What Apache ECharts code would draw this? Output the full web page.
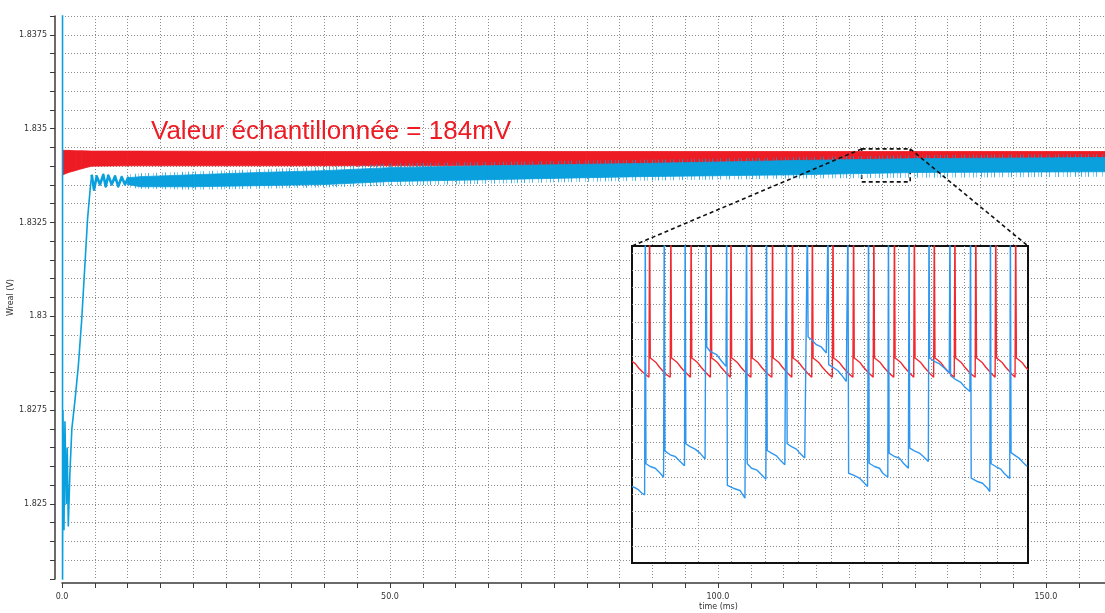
<!DOCTYPE html>
<html>
<head>
<meta charset="utf-8">
<script src="https://cdn.jsdelivr.net/npm/echarts@6/dist/echarts.min.js"></script>
<style>
  html, body { margin: 0; padding: 0; background: #ffffff; }
  #chart { width: 1105px; height: 613px; }
</style>
</head>
<body>
<div id="chart"></div>
<script>
// ---------------- main plot: Vreal vs time ----------------
const timeRange = [0, 159];          // ms
const voltRange = [1.823, 1.838];    // V
const timeStep = 5;                  // ms between grid lines
const voltStep = 0.0005;             // V between grid lines
const timeLabelEvery = 50;
const voltLabelEvery = 0.0025;

// red trace (sampled value): envelope of its fast ripple
const redBandTime = [0.15, 1, 2, 3, 4.5, 10, 40, 80, 120, 159];
const redBandLow  = [1.83377, 1.83383, 1.83388, 1.83393, 1.83400, 1.83401, 1.83401, 1.83401, 1.83401, 1.83401];
const redBandHigh = [1.83442, 1.83442, 1.83441, 1.83441, 1.83440, 1.83440, 1.83439, 1.83439, 1.83439, 1.83439];

// blue trace: start-up rise
const blueRiseTime = [0.08, 0.08, 0.15, 0.3, 0.45, 0.65, 0.8, 0.96, 1.2, 1.5, 2.0, 2.5, 3.0, 3.5, 3.9, 4.3, 4.53];
const blueRiseVolt = [1.8390, 1.8225, 1.8275, 1.8243, 1.8272, 1.8250, 1.8265, 1.8244, 1.8258, 1.8270, 1.8278, 1.8287,
                      1.8299, 1.8314, 1.8326, 1.8334, 1.83377];
// blue trace: ringing after the rise
const blueRingTime = [4.53, 4.88, 5.29, 5.79, 6.30, 6.66, 7.06, 7.58, 8.08, 8.58, 9.10, 9.60, 10.06, 10.52];
const blueRingVolt = [1.83377, 1.83337, 1.83373, 1.83351, 1.83377, 1.83346, 1.83375, 1.83351, 1.83373, 1.83346,
                      1.83371, 1.83351, 1.83369, 1.83351];

// blue trace after settling: envelope of its fast ripple, and the reach of its spikes
const blueBandTime  = [10, 12, 20, 30, 40, 50, 65, 88, 112, 130, 159];
const blueBandLow   = [1.83351, 1.83345, 1.83345, 1.83348, 1.83351, 1.83359, 1.83364, 1.83372, 1.83377, 1.83383, 1.83385];
const blueBandHigh  = [1.83369, 1.83372, 1.83377, 1.83383, 1.83388, 1.83396, 1.83401, 1.83407, 1.83415, 1.83420, 1.83423];
const blueSpikeLow  = [1.83343, 1.83340, 1.83337, 1.83340, 1.83343, 1.83348, 1.83353, 1.83361, 1.83367, 1.83369, 1.83372];
const blueSpikeHigh = [1.83378, 1.83381, 1.83386, 1.83392, 1.83398, 1.83407, 1.83411, 1.83417, 1.83424, 1.83429, 1.83432];

// window magnified in the inset
const zoomTime = [121.9, 129.3];
const zoomVolt = [1.83358, 1.83446];

const annotation = 'Valeur échantillonnée = 184mV';

// ---------------- inset: magnified window, in grid divisions ----------------
const insetXRange = [0, 11.92];
const insetYRange = [0, 18.4];
const insetSpikeTop = 20;   // pulses leave the top of the inset

const insetRedSpikes = [0.53, 1.17, 1.78, 2.38, 2.98, 3.60, 4.23, 4.83, 5.43, 6.05, 6.67, 7.28, 7.90, 8.50, 9.10, 9.72, 10.35, 10.95, 11.55];
const insetRedSegments = [
  [[0.00, 11.71], [0.10, 11.57], [0.20, 11.32], [0.32, 11.09], [0.42, 10.93], [0.51, 10.78]],
  [[0.55, 11.90], [0.63, 11.78], [0.73, 11.62], [0.83, 11.36], [0.93, 11.15], [1.03, 10.95], [1.15, 10.78]],
  [[1.19, 11.90], [1.27, 11.78], [1.37, 11.62], [1.47, 11.36], [1.57, 11.15], [1.67, 10.95], [1.76, 10.78]],
  [[1.80, 11.90], [1.88, 11.78], [1.98, 11.62], [2.08, 11.36], [2.18, 11.15], [2.27, 10.95], [2.36, 10.78]],
  [[2.40, 11.90], [2.48, 11.78], [2.58, 11.62], [2.68, 11.36], [2.78, 11.15], [2.87, 10.95], [2.96, 10.78]],
  [[3.00, 11.90], [3.08, 11.78], [3.18, 11.62], [3.28, 11.36], [3.38, 11.15], [3.48, 10.95], [3.58, 10.78]],
  [[3.62, 11.90], [3.70, 11.78], [3.80, 11.62], [3.90, 11.36], [4.00, 11.15], [4.10, 10.95], [4.21, 10.78]],
  [[4.25, 11.90], [4.33, 11.78], [4.43, 11.62], [4.53, 11.36], [4.63, 11.15], [4.72, 10.95], [4.81, 10.78]],
  [[4.85, 11.90], [4.93, 11.78], [5.03, 11.62], [5.13, 11.36], [5.23, 11.15], [5.32, 10.95], [5.41, 10.78]],
  [[5.45, 11.90], [5.53, 11.78], [5.63, 11.62], [5.73, 11.36], [5.83, 11.15], [5.93, 10.95], [6.03, 10.78]],
  [[6.07, 11.90], [6.15, 11.78], [6.25, 11.62], [6.35, 11.36], [6.45, 11.15], [6.55, 10.95], [6.65, 10.78]],
  [[6.69, 11.90], [6.77, 11.78], [6.87, 11.62], [6.97, 11.36], [7.07, 11.15], [7.17, 10.95], [7.26, 10.78]],
  [[7.30, 11.90], [7.38, 11.78], [7.48, 11.62], [7.58, 11.36], [7.68, 11.15], [7.78, 10.95], [7.88, 10.78]],
  [[7.92, 11.90], [8.00, 11.78], [8.10, 11.62], [8.20, 11.36], [8.30, 11.15], [8.39, 10.95], [8.48, 10.78]],
  [[8.52, 11.90], [8.60, 11.78], [8.70, 11.62], [8.80, 11.36], [8.90, 11.15], [8.99, 10.95], [9.08, 10.78]],
  [[9.12, 11.90], [9.20, 11.78], [9.30, 11.62], [9.40, 11.36], [9.50, 11.15], [9.60, 10.95], [9.70, 10.78]],
  [[9.74, 11.90], [9.82, 11.78], [9.92, 11.62], [10.02, 11.36], [10.12, 11.15], [10.22, 10.95], [10.33, 10.78]],
  [[10.37, 11.90], [10.45, 11.78], [10.55, 11.62], [10.65, 11.36], [10.75, 11.15], [10.84, 10.95], [10.93, 10.78]],
  [[10.97, 11.90], [11.05, 11.78], [11.15, 11.62], [11.25, 11.36], [11.35, 11.15], [11.44, 10.95], [11.53, 10.78]],
  [[11.57, 11.90], [11.65, 11.78], [11.75, 11.62], [11.85, 11.36], [11.92, 11.22]]
];

const insetBlueSpikes = [0.40, 0.97, 1.60, 2.23, 2.85, 3.45, 4.05, 4.65, 5.28, 5.90, 6.50, 7.12, 7.72, 8.34, 8.94, 9.57, 10.19, 10.79, 11.39];
const insetBlueSegments = [
  [[0.00, 4.44], [0.10, 4.36], [0.20, 4.24], [0.30, 4.05], [0.38, 3.95]],
  [[0.42, 5.76], [0.55, 5.60], [0.70, 5.50], [0.85, 5.21], [0.95, 4.98]],
  [[0.99, 6.51], [1.15, 6.28], [1.30, 6.18], [1.45, 5.89], [1.58, 5.64]],
  [[1.62, 6.92], [1.75, 6.76], [1.90, 6.61], [2.05, 6.38], [2.20, 6.03]],
  [[2.25, 12.54], [2.35, 12.29], [2.55, 12.09], [2.70, 11.71], [2.83, 11.41]],
  [[2.87, 4.50], [3.05, 4.34], [3.25, 4.21], [3.40, 3.76], [3.43, 3.70]],
  [[3.47, 5.76], [3.60, 5.50], [3.75, 5.41], [3.90, 5.12], [4.03, 4.86]],
  [[4.07, 6.53], [4.20, 6.38], [4.35, 6.22], [4.45, 5.99], [4.60, 5.70], [4.63, 5.64]],
  [[4.67, 6.92], [4.80, 6.76], [4.95, 6.61], [5.05, 6.38], [5.20, 6.09], [5.26, 6.03]],
  [[5.30, 13.12], [5.40, 12.97], [5.55, 12.67], [5.70, 12.54], [5.85, 12.19], [5.88, 12.09]],
  [[5.92, 11.51], [6.05, 11.36], [6.20, 11.16], [6.30, 10.93], [6.45, 10.54], [6.48, 10.48]],
  [[6.52, 5.21], [6.65, 5.12], [6.85, 4.92], [6.95, 4.73], [7.09, 4.44], [7.10, 4.40]],
  [[7.14, 5.79], [7.30, 5.60], [7.45, 5.50], [7.55, 5.21], [7.70, 4.98]],
  [[7.74, 6.38], [7.90, 6.18], [8.05, 6.09], [8.17, 5.79], [8.32, 5.50]],
  [[8.36, 6.67], [8.50, 6.51], [8.65, 6.38], [8.77, 6.18], [8.92, 5.89]],
  [[8.96, 11.90], [9.10, 11.71], [9.25, 11.57], [9.40, 11.32], [9.55, 11.03]],
  [[9.59, 10.87], [9.75, 10.64], [9.90, 10.48], [10.00, 10.25], [10.17, 9.96]],
  [[10.21, 4.92], [10.40, 4.73], [10.55, 4.63], [10.70, 4.34], [10.77, 4.15]],
  [[10.81, 5.76], [10.95, 5.60], [11.10, 5.45], [11.20, 5.21], [11.37, 4.90]],
  [[11.41, 6.41], [11.55, 6.22], [11.65, 6.09], [11.77, 5.83], [11.90, 5.60]]
];

// ---------------- styles ----------------
const RED = '#ED1C24';
const BLUE = '#0A9FDD';
const INSET_RED = '#F02A30';
const INSET_BLUE = '#2F97F0';
const AXIS_COLOR = '#3a3a3a';
const GRID_LINE = { color: '#8c8c8c', width: 1, type: [1, 2] };
const SMALL_FONT = { fontFamily: 'DejaVu Sans', fontSize: 8, color: '#333333' };

// hairline texture standing for the dense spikes around the blue ripple
function hairlineTexture(color) {
  const c = document.createElement('canvas');
  c.width = 47; c.height = 4;
  const g = c.getContext('2d');
  g.fillStyle = color;
  [[0, 0.8], [4, 0.5], [7, 0.8], [12, 0.4], [15, 0.7], [21, 0.5], [24, 0.8], [29, 0.4],
   [33, 0.7], [36, 0.5], [41, 0.8], [44, 0.4]]
    .forEach(([x, a]) => { g.globalAlpha = a; g.fillRect(x, 0, 1, 4); });
  return { type: 'pattern', image: c, repeat: 'repeat' };
}

// joins the flat parts of a pulse train with its vertical pulses
function pulseTrain(segments, spikes, top) {
  const out = [];
  segments.forEach((seg, i) => {
    seg.forEach(p => out.push(p));
    if (i < spikes.length) {
      const last = seg[seg.length - 1][1];
      out.push([spikes[i], last], [spikes[i], top]);
      if (segments[i + 1]) out.push([segments[i + 1][0][0], top]);
    }
  });
  return out;
}

const zip = (xs, ys) => xs.map((x, i) => [x, ys[i]]);

// one row per stretch between two envelope samples: [t0, low0, high0, t1, low1, high1]
function bandRows(t, lo, hi) {
  const rows = [];
  for (let i = 0; i < t.length - 1; i++) rows.push([t[i], lo[i], hi[i], t[i + 1], lo[i + 1], hi[i + 1]]);
  return rows;
}

function bandSeries(name, rows, fill, stroke) {
  return {
    name, type: 'custom', xAxisIndex: 0, yAxisIndex: 0, silent: true, clip: true,
    encode: { x: [0, 3], y: [1, 2, 4, 5] },
    data: rows,
    renderItem: (params, api) => {
      const pts = [
        api.coord([api.value(0), api.value(1)]),
        api.coord([api.value(3), api.value(4)]),
        api.coord([api.value(3), api.value(5)]),
        api.coord([api.value(0), api.value(2)])
      ];
      return {
        type: 'polygon', shape: { points: pts },
        style: stroke ? { fill, stroke, lineWidth: 0.8 } : { fill }
      };
    }
  };
}

const chart = echarts.init(document.getElementById('chart'), null, { renderer: 'canvas' });

const option = {
  animation: false,
  backgroundColor: '#ffffff',
  title: {
    text: annotation,
    left: 151, top: 119, padding: 0,
    textStyle: { color: RED, fontSize: 26, fontWeight: 'normal', fontFamily: 'Liberation Sans, Arial, sans-serif' }
  },
  grid: [
    { left: 62, right: 0, top: 16, bottom: 34, containLabel: false, outerBoundsMode: 'none' },
    { left: 632, top: 246, width: 396, height: 317, containLabel: false, outerBoundsMode: 'none',
      show: true, backgroundColor: '#ffffff', borderColor: '#111111', borderWidth: 2, z: 1 }
  ],
  xAxis: [
    {
      type: 'value', gridIndex: 0, min: timeRange[0], max: timeRange[1], interval: timeStep,
      offset: 4,
      name: 'time (ms)', nameLocation: 'middle', nameGap: 20, nameMoveOverlap: false,
      nameTextStyle: Object.assign({ padding: [0, 0, 0, 270] }, SMALL_FONT),
      axisLine: { show: true, onZero: false, lineStyle: { color: AXIS_COLOR, width: 1.5 } },
      axisTick: { show: true, inside: false, length: 5, lineStyle: { color: AXIS_COLOR, width: 1 } },
      axisLabel: Object.assign({
        margin: 10, showMaxLabel: false,
        formatter: v => (Math.abs(v % timeLabelEvery) < 1e-6 ? v.toFixed(1) : '')
      }, SMALL_FONT),
      splitLine: { show: true, showMinLine: false, showMaxLine: false, lineStyle: GRID_LINE }
    },
    {
      type: 'value', gridIndex: 1, min: insetXRange[0], max: insetXRange[1], interval: 1, z: 2,
      axisLine: { show: false }, axisTick: { show: false }, axisLabel: { show: false },
      splitLine: { show: true, showMinLine: false, showMaxLine: false, lineStyle: GRID_LINE }
    }
  ],
  yAxis: [
    {
      type: 'value', gridIndex: 0, min: voltRange[0], max: voltRange[1], interval: voltStep,
      offset: 7,
      name: 'Wreal (V)', nameLocation: 'middle', nameGap: 40, nameRotate: 90, nameMoveOverlap: false,
      nameTextStyle: SMALL_FONT,
      axisLine: { show: true, onZero: false, lineStyle: { color: AXIS_COLOR, width: 1.5 } },
      axisTick: { show: true, inside: false, length: 5, lineStyle: { color: AXIS_COLOR, width: 1 } },
      axisLabel: Object.assign({
        margin: 8,
        formatter: v => {
          const k = Math.round(v / voltLabelEvery);
          return Math.abs(k * voltLabelEvery - v) < 1e-7 ? String(+v.toFixed(4)) : '';
        }
      }, SMALL_FONT),
      splitLine: { show: true, showMinLine: false, showMaxLine: true, lineStyle: GRID_LINE }
    },
    {
      type: 'value', gridIndex: 1, min: insetYRange[0], max: insetYRange[1], interval: 1, z: 2,
      axisLine: { show: false }, axisTick: { show: false }, axisLabel: { show: false },
      splitLine: { show: true, showMinLine: false, showMaxLine: false, lineStyle: GRID_LINE }
    }
  ],
  series: [
    bandSeries('red', bandRows(redBandTime, redBandLow, redBandHigh), RED, RED),
    bandSeries('blue spikes', bandRows(blueBandTime, blueSpikeLow, blueSpikeHigh), hairlineTexture(BLUE), null),
    bandSeries('blue', bandRows(blueBandTime, blueBandLow, blueBandHigh), BLUE, BLUE),
    {
      name: 'blue ringing', type: 'line', xAxisIndex: 0, yAxisIndex: 0,
      data: zip(blueRingTime, blueRingVolt), symbol: 'none', silent: true,
      lineStyle: { color: BLUE, width: 2.6, join: 'round' }
    },
    {
      name: 'blue rise', type: 'line', xAxisIndex: 0, yAxisIndex: 0,
      data: zip(blueRiseTime, blueRiseVolt), symbol: 'none', silent: true,
      lineStyle: { color: BLUE, width: 1.6 },
      markArea: {
        silent: true,
        itemStyle: { color: 'rgba(0,0,0,0)', borderColor: '#111111', borderWidth: 1.6, borderType: [4, 3] },
        data: [[{ xAxis: zoomTime[0], yAxis: zoomVolt[1] }, { xAxis: zoomTime[1], yAxis: zoomVolt[0] }]]
      }
    },
    {
      name: 'inset red', type: 'line', xAxisIndex: 1, yAxisIndex: 1, z: 3,
      data: pulseTrain(insetRedSegments, insetRedSpikes, insetSpikeTop), symbol: 'none', silent: true,
      lineStyle: { color: INSET_RED, width: 1.4 }
    },
    {
      name: 'inset blue', type: 'line', xAxisIndex: 1, yAxisIndex: 1, z: 4,
      data: pulseTrain(insetBlueSegments, insetBlueSpikes, insetSpikeTop), symbol: 'none', silent: true,
      lineStyle: { color: INSET_BLUE, width: 1.4 }
    }
  ]
};

chart.setOption(option);

// dashed leaders from the zoom window to the inset corners
const boxLeft = chart.convertToPixel({ gridIndex: 0 }, [zoomTime[0], zoomVolt[1]]);
const boxRight = chart.convertToPixel({ gridIndex: 0 }, [zoomTime[1], zoomVolt[1]]);
const insetLeft = chart.convertToPixel({ gridIndex: 1 }, [insetXRange[0], insetYRange[1]]);
const insetRight = chart.convertToPixel({ gridIndex: 1 }, [insetXRange[1], insetYRange[1]]);
const leader = (a, b) => ({
  type: 'line', z: 50, silent: true,
  shape: { x1: a[0], y1: a[1], x2: b[0], y2: b[1] },
  style: { stroke: '#111111', lineWidth: 1.6, lineDash: [4, 3] }
});
chart.setOption({ graphic: [leader(boxLeft, insetLeft), leader(boxRight, insetRight)] });
</script>
</body>
</html>
